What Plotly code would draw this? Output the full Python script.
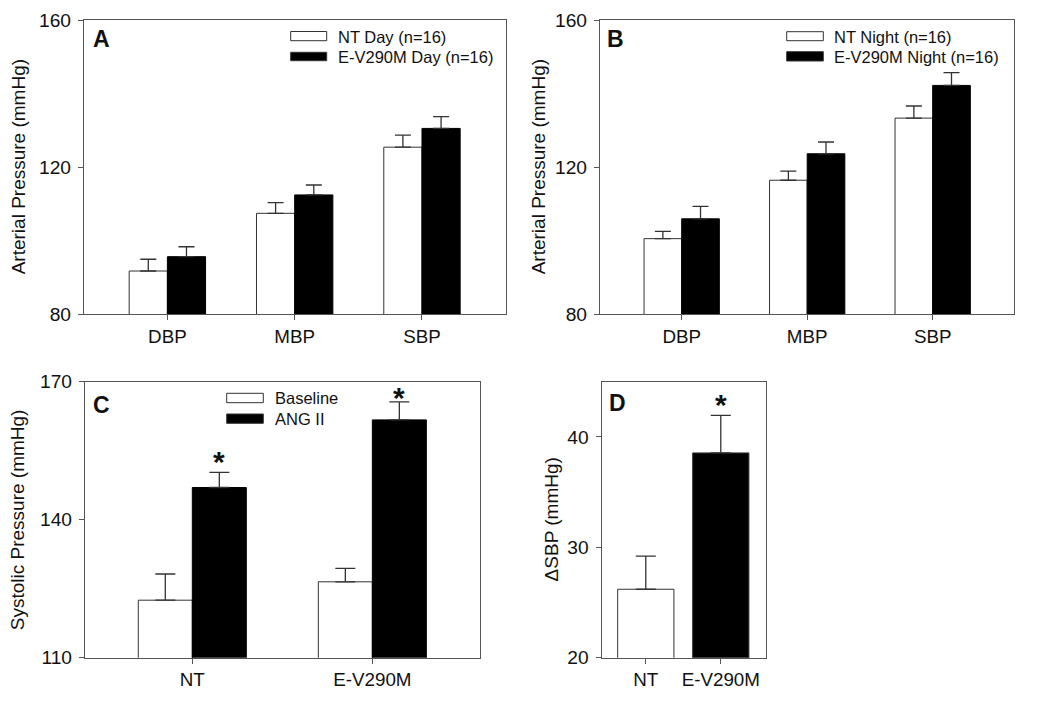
import plotly.graph_objects as go

W, H = 1050, 710
FONT = "Arial, 'Liberation Sans', sans-serif"

# ---------------- data ----------------
cats_ab = ["DBP", "MBP", "SBP"]
a_nt_day = [91.7, 107.4, 125.4]
a_nt_day_err = [3.2, 2.9, 3.3]
a_ev_day = [95.6, 112.4, 130.5]
a_ev_day_err = [2.7, 2.7, 3.2]

b_nt_night = [100.5, 116.4, 133.3]
b_nt_night_err = [2.0, 2.5, 3.3]
b_ev_night = [105.9, 123.6, 142.2]
b_ev_night_err = [3.4, 3.2, 3.5]

cats_c = ["NT", "E-V290M"]
c_baseline = [122.5, 126.5]
c_baseline_err = [5.7, 2.9]
c_ang = [147.0, 161.7]
c_ang_err = [3.3, 3.9]

cats_d = ["NT", "E-V290M"]
d_delta = [26.2, 38.55]
d_delta_err = [3.0, 3.4]

ticks_ab = [80, 120, 160]
ticks_c = [110, 140, 170]
ticks_d = [20, 30, 40]

# ---------------- helpers ----------------
def px(x):
    return x / W

def py(y):
    return 1 - y / H

LINE = "#555555"
EDGE = "#333333"

def bar(x, y, err, color, xa, ya, width, offset, capw, edge=EDGE):
    return go.Bar(
        x=x, y=y, xaxis=xa, yaxis=ya,
        width=width, offset=offset,
        marker=dict(color=color, line=dict(color=edge, width=1)),
        error_y=dict(type="data", array=err, arrayminus=[0] * len(err),
                     symmetric=False, color=EDGE, thickness=1.3, width=capw),
        showlegend=False, hoverinfo="x+y",
    )

fig = go.Figure()
fig.add_trace(bar(cats_ab, a_nt_day, a_nt_day_err, "white", "x", "y", 0.3, -0.3, 8))
fig.add_trace(bar(cats_ab, a_ev_day, a_ev_day_err, "black", "x", "y", 0.3, 0.0, 8, "#000"))
fig.add_trace(bar(cats_ab, b_nt_night, b_nt_night_err, "white", "x2", "y2", 0.3, -0.3, 8))
fig.add_trace(bar(cats_ab, b_ev_night, b_ev_night_err, "black", "x2", "y2", 0.3, 0.0, 8, "#000"))
fig.add_trace(bar(cats_c, c_baseline, c_baseline_err, "white", "x3", "y3", 0.3, -0.3, 10))
fig.add_trace(bar(cats_c, c_ang, c_ang_err, "black", "x3", "y3", 0.3, 0.0, 10, "#000"))
fig.add_trace(bar(cats_d, d_delta, d_delta_err, ["white", "black"], "x4", "y4", 0.75, -0.375, 10))

def xaxis(dom, rng, anchor, standoff):
    return dict(domain=[px(dom[0]), px(dom[1])], range=rng, anchor=anchor,
                type="category", showline=True, mirror=True, linecolor=LINE,
                linewidth=1.3, ticks="outside", ticklen=5, tickcolor=LINE,
                tickwidth=1.2, showgrid=False, zeroline=False, automargin=False,
                tickfont=dict(family=FONT, size=18.8, color="#111"),
                ticklabelstandoff=standoff, fixedrange=True)

def yaxis(dom, rng, tv, anchor):
    return dict(domain=[py(dom[1]), py(dom[0])], range=rng, anchor=anchor,
                tickvals=tv, showline=True, mirror=True, linecolor=LINE,
                linewidth=1.3, ticks="outside", ticklen=5, tickcolor=LINE,
                tickwidth=1.2, showgrid=False, zeroline=False, automargin=False,
                tickfont=dict(family=FONT, size=19.2, color="#111"),
                ticklabelstandoff=3, fixedrange=True)

A_X, A_Y = (84, 506), (20, 314)
B_X, B_Y = (600, 1014), (20, 314)
C_X, C_Y = (85, 480), (381.7, 657.7)
D_X, D_Y = (601.7, 765.7), (381.7, 657.7)

fig.update_layout(
    width=W, height=H, autosize=False,
    margin=dict(l=0, r=0, t=0, b=0, pad=0, autoexpand=False),
    paper_bgcolor="white", plot_bgcolor="white",
    barmode="group", bargap=0.4, bargroupgap=0,
    font=dict(family=FONT, color="#111"),
    showlegend=False,
    xaxis=xaxis(A_X, [-0.655, 2.66], "y", 0),
    yaxis=yaxis(A_Y, [80, 160], ticks_ab, "x"),
    xaxis2=xaxis(B_X, [-0.651, 2.648], "y2", 0),
    yaxis2=yaxis(B_Y, [80, 160], ticks_ab, "x2"),
    xaxis3=xaxis(C_X, [-0.596, 1.598], "y3", 0),
    yaxis3=yaxis(C_Y, [110, 170], ticks_c, "x3"),
    xaxis4=xaxis(D_X, [-0.588, 1.599], "y4", 0),
    yaxis4=yaxis(D_Y, [20, 45], ticks_d, "x4"),
)

annotations = []
shapes = []

def text(x, y, s, size, bold=False, xanchor="center", angle=0):
    annotations.append(dict(
        x=px(x), y=py(y), xref="paper", yref="paper", text=("<b>%s</b>" % s) if bold else s,
        showarrow=False, xanchor=xanchor, yanchor="middle", textangle=angle,
        font=dict(family=FONT, size=size, color="#111")))

text(101.8, 39.0, "A", 23, bold=True)
text(615.7, 39.0, "B", 23, bold=True)
text(101.0, 405.0, "C", 23, bold=True)
text(617.0, 403.0, "D", 23, bold=True)

text(18.3, 167, "Arterial Pressure (mmHg)", 19, angle=-90)
text(538.3, 167, "Arterial Pressure (mmHg)", 19, angle=-90)
text(17.5, 519.7, "Systolic Pressure (mmHg)", 19, angle=-90)
text(551.7, 519.7, "ΔSBP (mmHg)", 19, angle=-90)

def legend_item(x0, x1, y0, y1, fill, label, tx, ty):
    shapes.append(dict(type="rect", xref="paper", yref="paper",
                       x0=px(x0), x1=px(x1), y0=py(y1), y1=py(y0),
                       fillcolor=fill, line=dict(color=EDGE, width=1)))
    text(tx, ty, label, 16.5, xanchor="left")

legend_item(290.7, 326.7, 31.5, 40.7, "white", "NT Day (n=16)", 336, 36.5)
legend_item(290.7, 326.7, 52.3, 60.7, "black", "E-V290M Day (n=16)", 336, 57.3)
legend_item(786.7, 823.3, 31.7, 40.7, "white", "NT Night (n=16)", 832, 36.5)
legend_item(786.7, 823.3, 51.7, 61.0, "black", "E-V290M Night (n=16)", 832, 57.3)
legend_item(226.7, 263.3, 393.3, 402.7, "white", "Baseline", 272.5, 398.3)
legend_item(226.7, 263.3, 414.0, 423.3, "black", "ANG II", 272.5, 419.0)

def star(xref, yref, xpos, ytop, shift):
    annotations.append(dict(
        x=xpos, y=ytop, xref=xref, yref=yref, text="<b>*</b>", showarrow=False,
        xanchor="center", yanchor="middle", yshift=shift,
        font=dict(family=FONT, size=30, color="#111")))

for i in range(len(cats_c)):
    star("x3", "y3", i + 0.15, c_ang[i] + c_ang_err[i], [11, 4][i])
star("x4", "y4", 1, d_delta[1] + d_delta_err[1], 11)

fig.update_layout(annotations=annotations, shapes=shapes)
# remove the browser's default 8px page margin so the figure fills the window exactly
fig.write_html("out.html", config={"displayModeBar": False},
               post_script="document.body.style.margin='0px';")
